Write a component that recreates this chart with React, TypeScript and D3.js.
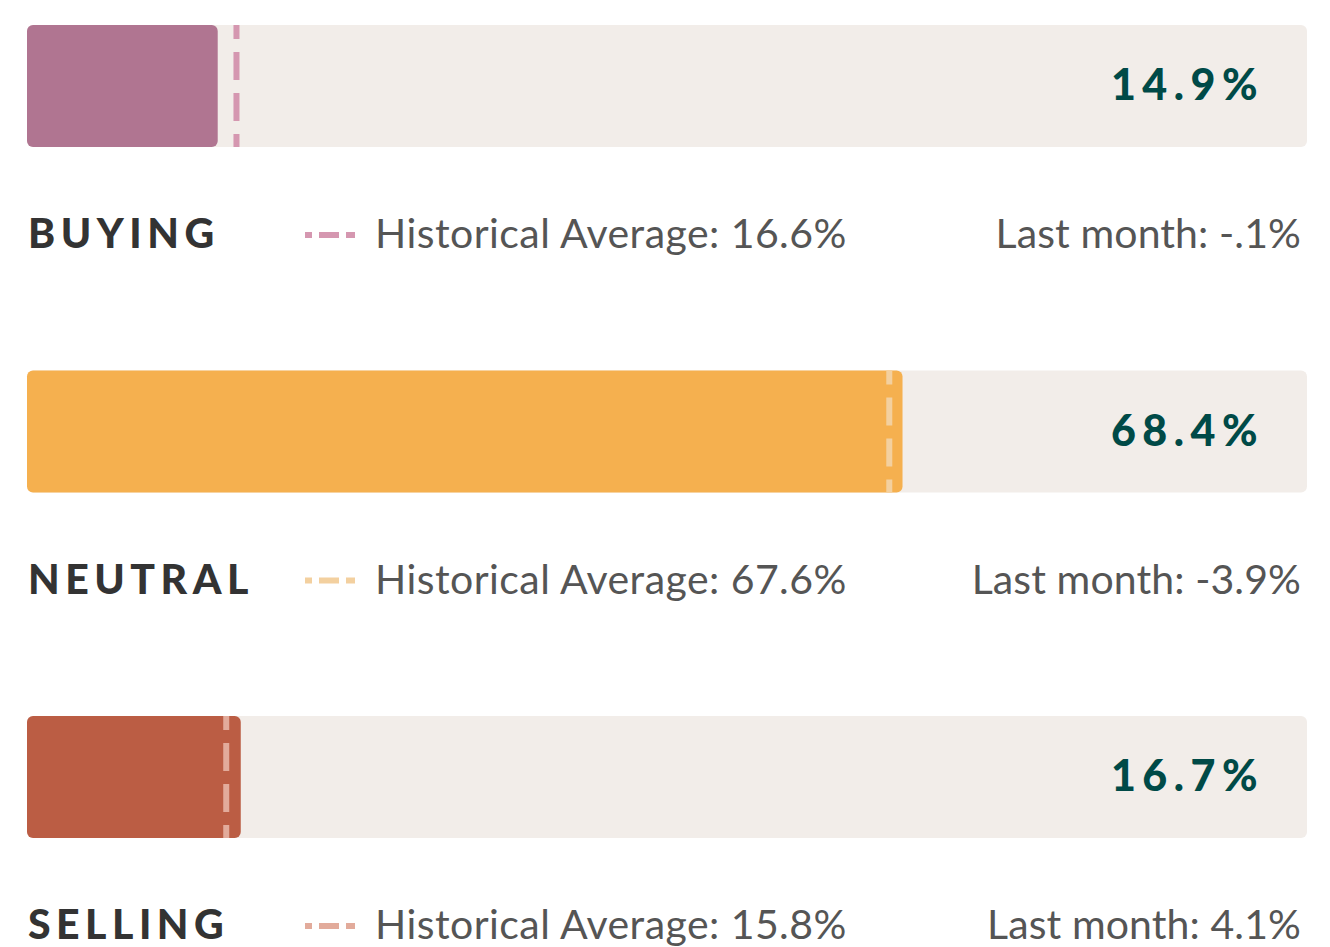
import React from "react";
import * as d3 from "d3";

const categories = ["BUYING", "NEUTRAL", "SELLING"];
const values = [14.9, 68.4, 16.7];
const historicalAverages = [16.6, 67.6, 15.8];
const lastMonthChanges = ["-.1%", "-3.9%", "4.1%"];
const barColors = ["#b07591", "#f5b04f", "#bb5d44"];
const dashColors = ["#d597b0", "#f3d09f", "#e2ab9b"];

const W = 1330;
const H = 947;

export default function App() {
  const x = d3.scaleLinear().domain([0, 100]).range([27, 1307]);
  const y = d3.scaleBand<string>().domain(categories).range([25, 25 + 345.5 * 3]).paddingInner(0).paddingOuter(0);
  const trackH = 122;
  const font = "Lato, 'Open Sans', sans-serif";

  return (
    <svg width={W} height={H} style={{ position: "absolute", left: 0, top: 0, background: "#fff" }}>
      {categories.map((c, i) => {
        const top = y(c)!;
        const avgX = x(historicalAverages[i]) - 3;
        return (
          <g key={c}>
            <rect x={x(0)} y={top} width={x(100) - x(0)} height={trackH} rx={6} fill="#f2ede9" />
            <rect x={x(0)} y={top} width={x(values[i]) - x(0)} height={trackH} rx={6} fill={barColors[i]} />
            <line
              x1={avgX}
              x2={avgX}
              y1={top}
              y2={top + trackH}
              stroke={dashColors[i]}
              strokeWidth={6}
              strokeDasharray="28 13"
              strokeDashoffset={14}
            />
            <text
              x={1264}
              y={top + 75}
              textAnchor="end"
              fontFamily={font}
              fontWeight={900}
              fontSize={43}
              fill="#004a47"
              style={{ letterSpacing: "6.5px" }}
            >
              {values[i].toFixed(1) + "%"}
            </text>
            <text
              x={28}
              y={top + 223}
              fontFamily={font}
              fontWeight={900}
              fontSize={41}
              fill="#333333"
              style={{ letterSpacing: "5.5px" }}
            >
              {c}
            </text>
            <line
              x1={305}
              x2={355}
              y1={top + 210}
              y2={top + 210}
              stroke={dashColors[i]}
              strokeWidth={6}
              strokeDasharray="20 7"
              strokeDashoffset={13}
            />
            <text x={375} y={top + 223} fontFamily={font} fontSize={41} fill="#555555" style={{ letterSpacing: "0.45px" }}>
              {"Historical Average: " + historicalAverages[i].toFixed(1) + "%"}
            </text>
            <text x={1301} y={top + 223} textAnchor="end" fontFamily={font} fontSize={41} fill="#555555" style={{ letterSpacing: "0.1px" }}>
              {"Last month: " + lastMonthChanges[i]}
            </text>
          </g>
        );
      })}
    </svg>
  );
}
